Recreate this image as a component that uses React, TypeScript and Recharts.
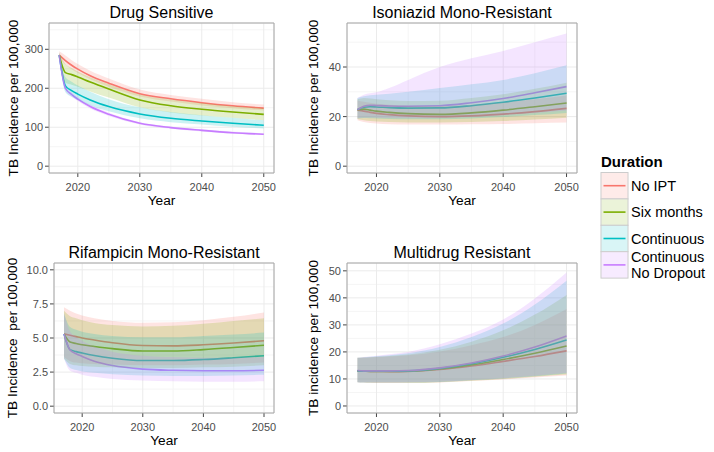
import React from 'react';
import {
  ComposedChart,
  Line,
  Area,
  XAxis,
  YAxis,
  CartesianGrid,
  ReferenceArea,
} from 'recharts';

const years = [2017, 2018, 2019, 2020, 2022, 2025, 2030, 2035, 2040, 2045, 2050];
const xTicks = [2020, 2030, 2040, 2050];
const xMinor = [2025, 2035, 2045];
const seriesNames = ['No IPT', 'Six months', 'Continuous', 'Continuous\nNo Dropout'];
const seriesColors = ['#F8766D', '#7CAE00', '#00BFC4', '#C77CFF'];

// Drug Sensitive
const dsNoIpt = [285, 271, 259, 249, 232, 213, 186, 173, 163, 155, 149];
const dsNoIptLo = [275, 261, 249, 239, 223, 204, 179, 166, 156, 149, 143];
const dsNoIptHi = [295, 284, 272, 262, 245, 225, 197, 183, 173, 164, 158];
const dsSix = [285, 240, 235, 229, 216, 198, 170, 155, 146, 139, 133];
const dsSixLo = [277, 214, 209, 204, 192, 176, 151, 138, 130, 124, 118];
const dsSixHi = [292, 262, 252, 243, 228, 210, 184, 171, 162, 154, 149];
const dsCont = [285, 206, 194, 185, 170, 153, 134, 123, 116, 110, 105];
const dsContLo = [277, 190, 178, 170, 156, 141, 123, 113, 107, 101, 97];
const dsContHi = [292, 228, 217, 207, 191, 172, 151, 139, 131, 124, 118];
const dsNd = [285, 200, 184, 172, 153, 133, 110, 99, 92, 86, 82];
const dsNdLo = [277, 194, 178, 167, 148, 129, 107, 96, 89, 83, 80];
const dsNdHi = [292, 206, 190, 177, 158, 137, 113, 102, 95, 89, 84];

// Isoniazid Mono-Resistant
const inhNoIpt = [22.6, 22.2, 21.7, 21.3, 20.8, 20.3, 20.0, 20.3, 21.0, 22.0, 23.3];
const inhNoIptLo = [18.5, 17.8, 17.4, 17.2, 16.9, 16.8, 16.8, 16.9, 17.0, 17.3, 17.6];
const inhNoIptHi = [26.5, 26.0, 25.6, 25.2, 24.8, 24.4, 24.3, 24.8, 25.8, 27.0, 28.5];
const inhSix = [22.8, 23.0, 22.6, 22.2, 21.7, 21.2, 20.9, 21.5, 22.6, 24.0, 25.5];
const inhSixLo = [19.0, 18.5, 18.2, 18.0, 17.8, 17.6, 17.6, 17.8, 18.2, 18.8, 19.5];
const inhSixHi = [27.0, 27.5, 27.3, 27.0, 26.6, 26.3, 26.4, 27.5, 29.0, 31.2, 33.7];
const inhCont = [22.8, 23.8, 24.0, 23.9, 23.6, 23.4, 23.5, 24.4, 25.8, 27.5, 29.4];
const inhContLo = [19.2, 19.4, 19.3, 19.2, 19.0, 18.9, 18.9, 19.2, 19.8, 20.6, 21.5];
const inhContHi = [27.5, 28.2, 28.6, 28.8, 29.2, 30.0, 31.5, 33.0, 34.8, 37.5, 40.7];
const inhNd = [22.8, 24.2, 24.6, 24.5, 24.3, 24.2, 24.4, 25.6, 27.3, 29.6, 32.1];
const inhNdLo = [19.2, 19.6, 19.6, 19.5, 19.4, 19.3, 19.4, 19.8, 20.5, 21.5, 22.5];
const inhNdHi = [27.5, 28.8, 29.4, 29.8, 31.5, 34.8, 40.0, 43.5, 46.5, 50.0, 53.5];

// Rifampicin Mono-Resistant
const rifNoIpt = [5.3, 5.2, 5.1, 5.0, 4.85, 4.65, 4.45, 4.42, 4.5, 4.63, 4.8];
const rifNoIptLo = [3.6, 3.3, 3.2, 3.15, 3.1, 3.05, 3.0, 3.0, 3.05, 3.1, 3.2];
const rifNoIptHi = [7.25, 7.0, 6.8, 6.65, 6.45, 6.25, 6.12, 6.15, 6.3, 6.55, 6.87];
const rifSix = [5.3, 4.7, 4.6, 4.5, 4.38, 4.22, 4.05, 4.05, 4.15, 4.3, 4.47];
const rifSixLo = [3.5, 3.1, 3.0, 2.95, 2.9, 2.85, 2.8, 2.8, 2.85, 2.9, 3.0];
const rifSixHi = [7.0, 6.6, 6.45, 6.3, 6.1, 5.95, 5.85, 5.9, 6.05, 6.25, 6.45];
const rifCont = [5.3, 4.15, 4.0, 3.9, 3.72, 3.52, 3.35, 3.35, 3.42, 3.55, 3.7];
const rifContLo = [3.5, 2.8, 2.65, 2.55, 2.45, 2.35, 2.25, 2.22, 2.22, 2.25, 2.3];
const rifContHi = [6.8, 5.8, 5.6, 5.45, 5.3, 5.15, 5.05, 5.05, 5.15, 5.25, 5.4];
const rifNd = [5.3, 4.12, 3.85, 3.65, 3.3, 2.98, 2.72, 2.63, 2.6, 2.6, 2.63];
const rifNdLo = [3.5, 2.6, 2.45, 2.3, 2.15, 2.0, 1.88, 1.83, 1.8, 1.8, 1.83];
const rifNdHi = [6.8, 5.5, 5.1, 4.8, 4.4, 4.0, 3.7, 3.6, 3.55, 3.55, 3.6];

// Multidrug Resistant
const mdrNoIpt = [13.0, 12.9, 12.8, 12.8, 12.7, 12.8, 13.5, 14.8, 16.5, 18.3, 20.4];
const mdrNoIptLo = [8.8, 8.7, 8.6, 8.5, 8.5, 8.5, 8.7, 9.2, 9.8, 10.5, 11.3];
const mdrNoIptHi = [17.8, 17.9, 18.0, 18.1, 18.3, 18.8, 20.2, 22.5, 25.5, 30.0, 35.9];
const mdrSix = [13.0, 12.9, 12.8, 12.8, 12.8, 12.9, 13.7, 15.2, 17.2, 19.5, 22.2];
const mdrSixLo = [8.8, 8.7, 8.6, 8.6, 8.6, 8.6, 8.8, 9.3, 10.0, 10.8, 11.6];
const mdrSixHi = [17.8, 17.9, 18.0, 18.2, 18.5, 19.0, 20.8, 23.8, 28.0, 33.8, 41.1];
const mdrCont = [13.0, 12.9, 12.9, 12.9, 12.9, 13.0, 13.9, 15.6, 18.0, 20.9, 24.4];
const mdrContLo = [8.8, 8.7, 8.7, 8.7, 8.7, 8.7, 8.9, 9.5, 10.2, 11.0, 12.0];
const mdrContHi = [17.8, 18.0, 18.2, 18.4, 18.8, 19.5, 21.8, 25.5, 30.5, 37.5, 46.3];
const mdrNd = [13.1, 13.0, 13.0, 13.0, 13.0, 13.1, 14.1, 15.9, 18.5, 21.8, 25.9];
const mdrNdLo = [8.8, 8.7, 8.7, 8.7, 8.7, 8.8, 9.0, 9.6, 10.3, 11.2, 12.2];
const mdrNdHi = [17.8, 18.1, 18.3, 18.6, 19.1, 20.0, 22.8, 26.8, 32.0, 39.8, 49.4];

const W = 714;
const H = 452;
const Y_AXIS_W = 40;
const X_AXIS_H = 30;
const X_DOMAIN = [2015.35, 2051.65];
const FONT = '"Liberation Sans", Arial, Helvetica, sans-serif';

const panels = [
  {
    title: 'Drug Sensitive',
    yLabel: 'TB Incidence per 100,000',
    x0: 49, x1: 274, y0: 23, y1: 173, labelX: 18,
    yDomain: [-17.5, 367.5],
    yTicks: [0, 100, 200, 300],
    yMinor: [50, 150, 250, 350],
    fmt: (v: number) => `${v}`,
    series: [
      [dsNoIpt, dsNoIptLo, dsNoIptHi],
      [dsSix, dsSixLo, dsSixHi],
      [dsCont, dsContLo, dsContHi],
      [dsNd, dsNdLo, dsNdHi],
    ],
  },
  {
    title: 'Isoniazid Mono-Resistant',
    yLabel: 'TB Incidence per 100,000',
    x0: 347, x1: 577, y0: 23, y1: 173, labelX: 318,
    yDomain: [-2.75, 57.75],
    yTicks: [0, 20, 40],
    yMinor: [10, 30, 50],
    fmt: (v: number) => `${v}`,
    series: [
      [inhNoIpt, inhNoIptLo, inhNoIptHi],
      [inhSix, inhSixLo, inhSixHi],
      [inhCont, inhContLo, inhContHi],
      [inhNd, inhNdLo, inhNdHi],
    ],
  },
  {
    title: 'Rifampicin Mono-Resistant',
    yLabel: 'TB Incidence  per 100,000',
    x0: 54, x1: 274, y0: 263, y1: 413, labelX: 17,
    yDomain: [-0.5, 10.5],
    yTicks: [0, 2.5, 5, 7.5, 10],
    yMinor: [1.25, 3.75, 6.25, 8.75],
    fmt: (v: number) => v.toFixed(1),
    series: [
      [rifNoIpt, rifNoIptLo, rifNoIptHi],
      [rifSix, rifSixLo, rifSixHi],
      [rifCont, rifContLo, rifContHi],
      [rifNd, rifNdLo, rifNdHi],
    ],
  },
  {
    title: 'Multidrug Resistant',
    yLabel: 'TB incidence per 100,000',
    x0: 347, x1: 577, y0: 263, y1: 413, labelX: 318,
    yDomain: [-2.6, 52.9],
    yTicks: [0, 10, 20, 30, 40, 50],
    yMinor: [5, 15, 25, 35, 45],
    fmt: (v: number) => `${v}`,
    series: [
      [mdrNoIpt, mdrNoIptLo, mdrNoIptHi],
      [mdrSix, mdrSixLo, mdrSixHi],
      [mdrCont, mdrContLo, mdrContHi],
      [mdrNd, mdrNdLo, mdrNdHi],
    ],
  },
];

type PanelDef = (typeof panels)[number];

function Panel({ p }: { p: PanelDef }) {
  const data = years.map((year, i) => {
    const row: Record<string, any> = { year };
    p.series.forEach(([line, lo, hi], k) => {
      row[`v${k}`] = line[i];
      row[`b${k}`] = [lo[i], hi[i]];
    });
    return row;
  });

  return (
    <div style={{ position: 'absolute', left: 0, top: 0, pointerEvents: 'none' }}>
      <ComposedChart
        width={W}
        height={H}
        data={data}
        margin={{ top: p.y0, left: p.x0 - Y_AXIS_W, right: W - p.x1, bottom: H - p.y1 - X_AXIS_H }}
      >
        {/* minor grid first, major on top of it */}
        <CartesianGrid stroke="#f5f5f5" verticalValues={xMinor} horizontalValues={p.yMinor} />
        <CartesianGrid stroke="#ebebeb" />
        <XAxis
          type="number"
          dataKey="year"
          domain={X_DOMAIN}
          ticks={xTicks}
          height={X_AXIS_H}
          tickSize={4}
          tickMargin={6}
          axisLine={false}
          tickLine={{ stroke: '#444' }}
          tick={{ fill: '#4d4d4d', fontSize: 11 }}
        />
        <YAxis
          type="number"
          domain={p.yDomain}
          ticks={p.yTicks}
          width={Y_AXIS_W}
          tickSize={4}
          tickMargin={2}
          axisLine={false}
          tickLine={{ stroke: '#444' }}
          tick={{ fill: '#4d4d4d', fontSize: 11 }}
          tickFormatter={p.fmt}
        />
        {seriesColors.map((c, k) => (
          <Line
            key={`l${k}`}
            type="monotone"
            dataKey={`v${k}`}
            stroke={c}
            strokeWidth={1.6}
            dot={false}
            activeDot={false}
            isAnimationActive={false}
            zIndex={90}
          />
        ))}
        {seriesColors.map((c, k) => (
          <Area
            key={`a${k}`}
            type="monotone"
            dataKey={`b${k}`}
            stroke="none"
            fill={c}
            fillOpacity={0.2}
            activeDot={false}
            isAnimationActive={false}
            zIndex={100}
          />
        ))}
        <ReferenceArea
          x1={X_DOMAIN[0]}
          x2={X_DOMAIN[1]}
          y1={p.yDomain[0]}
          y2={p.yDomain[1]}
          fill="none"
          stroke="#a6a6a6"
          strokeWidth={1}
          zIndex={1000}
        />
      </ComposedChart>
    </div>
  );
}

function Overlay() {
  const keyTop = 172.5;
  const keyH = 26.4;
  return (
    <svg
      width={W}
      height={H}
      style={{ position: 'absolute', left: 0, top: 0, pointerEvents: 'none' }}
    >
      {panels.map(p => {
        const cx = (p.x0 + p.x1) / 2;
        const cy = (p.y0 + p.y1) / 2;
        return (
          <g key={p.title}>
            <text x={cx} y={p.y0 - 4.6} textAnchor="middle" fontSize={16} fill="#000">
              {p.title}
            </text>
            <text x={cx} y={p.y1 + 32} textAnchor="middle" fontSize={13.7} fill="#000">
              Year
            </text>
            <text
              x={p.labelX}
              y={cy}
              transform={`rotate(-90 ${p.labelX} ${cy})`}
              textAnchor="middle"
              fontSize={13.7}
              fill="#000"
              style={{ whiteSpace: 'pre' }}
            >
              {p.yLabel}
            </text>
          </g>
        );
      })}
      <text x={601} y={166.5} fontSize={15} fontWeight="bold" fill="#000">
        Duration
      </text>
      {seriesNames.map((name, k) => {
        const top = keyTop + k * keyH;
        const mid = top + keyH / 2;
        const lines = name.split('\n');
        return (
          <g key={name}>
            <rect x={601} y={top} width={27} height={keyH} fill="#fff" stroke="#cccccc" strokeWidth={1} />
            <rect x={601.5} y={top + 0.5} width={26} height={keyH - 1} fill={seriesColors[k]} fillOpacity={0.15} />
            <line x1={603.5} y1={mid} x2={625.5} y2={mid} stroke={seriesColors[k]} strokeWidth={1.6} />
            {lines.map((t, j) => (
              <text
                key={t}
                x={631}
                y={mid + 5.2 + (j - (lines.length - 1) / 2) * 16}
                fontSize={14.5}
                fill="#000"
              >
                {t}
              </text>
            ))}
          </g>
        );
      })}
    </svg>
  );
}

export default function App() {
  return (
    <div
      style={{
        position: 'absolute',
        left: 0,
        top: 0,
        width: W,
        height: H,
        background: '#fff',
        fontFamily: FONT,
        overflow: 'hidden',
      }}
    >
      {panels.map(p => (
        <Panel key={p.title} p={p} />
      ))}
      <Overlay />
    </div>
  );
}
